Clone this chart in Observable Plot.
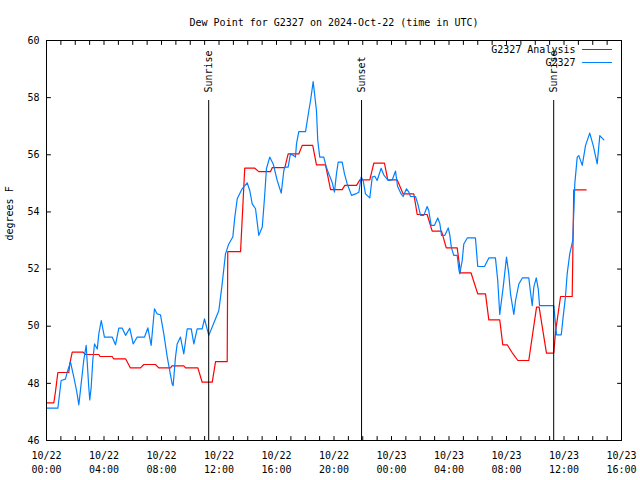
<!DOCTYPE html>
<html><head><meta charset="utf-8">
<script src="https://cdn.jsdelivr.net/npm/d3@7"></script>
<script src="https://cdn.jsdelivr.net/npm/@observablehq/plot@0.6"></script>
<style>body{margin:0;background:#fff} svg{display:block}</style>
</head><body><div id="chart"></div>
<script>
const title = "Dew Point for G2327 on 2024-Oct-22 (time in UTC)";
const yLabel = "degrees F";
const startUTC = Date.UTC(2024, 9, 22, 0, 0);
const spanHours = 40;
const yTicks = [46, 48, 50, 52, 54, 56, 58, 60];
const majorTickHours = [0, 4, 8, 12, 16, 20, 24, 28, 32, 36, 40];
const seriesNames = ["G2327 Analysis", "G2327"];
const seriesColors = ["#ff0000", "#0080ff"];
const eventLabels = ["Sunrise", "Sunset", "Sunrise"];
const eventTimes = ["2024-10-22T11:17Z", "2024-10-22T21:55Z", "2024-10-23T11:17Z"];

// hours after 10/22 00:00 UTC
const analysisHours = [0.0,0.51,0.63,0.79,1.55,1.62,1.79,2.55,2.71,3.64,3.72,4.57,4.66,5.50,5.84,6.54,6.77,7.58,7.81,8.63,8.73,9.55,9.67,10.53,10.83,11.53,11.76,12.57,12.61,13.50,13.79,14.49,14.77,15.58,15.70,16.58,16.81,17.55,17.79,18.52,18.78,19.41,19.76,20.57,20.75,21.57,21.79,22.49,22.77,23.51,23.74,24.40,24.81,25.55,25.79,26.48,26.83,27.48,27.81,28.57,28.80,29.53,30.00,30.54,30.77,31.53,31.74,32.05,32.40,32.79,33.55,34.09,34.27,34.78,35.29,35.41,35.76,36.57,36.68,37.54];
const analysisValues = [47.32,47.32,47.73,48.38,48.38,48.68,49.09,49.09,49.01,49.01,48.94,48.94,48.86,48.86,48.54,48.54,48.66,48.66,48.54,48.54,48.61,48.61,48.54,48.54,48.04,48.04,48.76,48.76,52.61,52.61,55.53,55.53,55.41,55.41,55.55,55.55,56.03,56.03,56.33,56.33,55.65,55.65,54.78,54.78,54.93,54.93,55.12,55.12,55.71,55.71,55.12,55.12,54.63,54.63,53.91,53.91,53.33,53.33,52.74,52.74,51.87,51.87,51.13,51.13,50.22,50.22,49.35,49.35,49.07,48.80,48.80,50.67,50.67,49.06,49.06,49.80,51.04,51.04,54.77,54.77];

const stationHours = [0.0,0.79,1.02,1.32,1.44,1.67,1.90,2.09,2.25,2.41,2.59,2.76,2.94,3.01,3.11,3.22,3.34,3.53,3.64,3.81,4.03,4.57,4.80,5.03,5.27,5.50,5.79,6.03,6.31,6.82,7.05,7.28,7.51,7.70,7.93,8.16,8.40,8.74,8.81,8.97,9.09,9.32,9.55,9.79,10.07,10.25,10.48,10.83,10.99,11.29,11.76,11.99,12.22,12.45,12.68,12.96,13.10,13.27,13.61,13.96,14.14,14.31,14.54,14.77,15.01,15.17,15.30,15.53,15.77,16.05,16.33,16.51,16.58,16.81,16.97,17.20,17.32,17.39,17.55,18.02,18.25,18.37,18.55,18.78,18.87,19.01,19.29,19.46,19.64,19.87,20.03,20.17,20.29,20.57,20.73,20.92,21.22,21.50,21.73,21.89,22.03,22.19,22.49,22.66,22.84,23.00,23.28,23.46,23.77,24.05,24.28,24.42,24.67,24.81,25.04,25.20,25.32,25.67,25.83,26.02,26.25,26.48,26.59,26.76,26.99,27.22,27.36,27.48,27.71,27.95,28.06,28.16,28.33,28.57,28.68,28.75,28.92,29.03,29.27,29.84,30.00,30.47,30.77,31.23,31.39,31.53,31.77,32.00,32.16,32.28,32.51,32.63,32.86,33.10,33.55,33.67,33.79,33.90,34.07,34.21,34.30,35.29,35.36,35.48,35.81,35.94,36.10,36.22,36.40,36.61,36.75,36.92,37.03,37.27,37.50,37.79,38.03,38.31,38.49,38.77];
const stationValues = [47.13,47.13,48.10,48.15,48.39,48.74,48.22,47.75,47.25,47.98,48.80,49.33,47.87,47.42,47.87,48.80,49.38,49.20,49.73,50.20,49.62,49.62,49.35,49.93,49.93,49.68,49.93,49.38,49.62,49.62,49.94,49.33,50.61,50.43,50.40,49.73,48.92,47.98,47.92,48.90,49.38,49.62,49.03,49.91,49.91,49.38,49.91,49.91,50.26,49.68,50.26,50.55,51.48,52.53,52.88,53.12,53.82,54.46,54.81,55.02,54.75,54.28,54.11,53.18,53.47,54.52,55.51,55.92,55.68,55.10,54.66,55.45,55.57,55.57,56.03,55.97,55.92,56.38,56.81,56.81,57.55,57.90,58.56,57.55,56.50,55.92,55.92,55.57,55.33,55.04,54.69,55.33,55.74,55.74,55.33,54.98,54.58,54.63,54.69,55.22,55.10,54.63,54.49,55.22,55.25,55.10,55.53,55.30,55.10,55.12,55.43,54.90,54.63,54.54,54.81,54.70,54.54,54.54,54.28,53.88,53.88,54.19,54.05,53.53,53.53,53.79,53.60,53.18,53.18,53.44,53.18,52.77,52.48,52.48,52.01,51.83,52.30,52.88,53.09,53.09,52.09,52.09,52.39,52.39,51.60,50.41,51.37,52.42,51.83,51.13,50.41,50.90,51.48,51.69,51.69,51.19,50.72,51.37,51.69,51.30,50.72,50.72,50.32,49.70,49.70,50.32,51.02,51.83,52.53,53.00,54.98,55.92,55.97,55.63,56.33,56.76,56.33,55.68,56.67,56.52];

const toDate = h => new Date(startUTC + h * 3600e3);
const analysis = analysisHours.map((h, i) => ({t: toDate(h), v: analysisValues[i]}));
const station = stationHours.map((h, i) => ({t: toDate(h), v: stationValues[i]}));
const events = eventTimes.map((t, i) => ({t: new Date(t), label: eventLabels[i]}));
const majorTicks = majorTickHours.map(toDate);
const hourTicks = d3.range(0, spanHours + 1).map(toDate);
const fmtDay = d3.utcFormat("%m/%d"), fmtTime = d3.utcFormat("%H:%M");
const seg = {draw(ctx, l) { ctx.moveTo(0, 0); ctx.lineTo(0, -l); }};
const tickOpts = {length: 4, anchor: "start", shape: seg, stroke: "#000", strokeWidth: 1};

const legendMarks = seriesNames.flatMap((name, i) => [
  Plot.text([name], {text: d => d, frameAnchor: "top-right", dx: -46, dy: 9 + 13 * i, textAnchor: "end", lineAnchor: "middle", fill: "#000"}),
  Plot.vector([name], {frameAnchor: "top-right", dx: -39, dy: 9 + 13 * i, rotate: 90, length: 29, anchor: "start", shape: seg, stroke: seriesColors[i], strokeWidth: 1.2})
]);

const chart = Plot.plot({
  width: 640, height: 480,
  marginLeft: 46, marginRight: 19, marginTop: 40, marginBottom: 40,
  style: {fontFamily: "'DejaVu Sans Mono', monospace", fontSize: "10px", background: "#fff", color: "#000"},
  x: {type: "utc", domain: [toDate(0), toDate(spanHours)]},
  y: {domain: [46, 60]},
  marks: [
    Plot.line(analysis, {x: "t", y: "v", stroke: seriesColors[0], strokeWidth: 1.2}),
    Plot.line(station, {x: "t", y: "v", stroke: seriesColors[1], strokeWidth: 1.2}),
    Plot.ruleX(events, {x: "t", insetTop: 60, stroke: "#000", strokeWidth: 1}),
    Plot.text(events, {x: "t", text: "label", frameAnchor: "top", dy: 52, rotate: -90, textAnchor: "start", lineAnchor: "middle", fill: "#000"}),
    Plot.frame({stroke: "#000", strokeWidth: 1}),
    Plot.vector(hourTicks, {x: d => d, frameAnchor: "bottom", rotate: 0, ...tickOpts}),
    Plot.vector(hourTicks, {x: d => d, frameAnchor: "top", rotate: 180, ...tickOpts}),
    Plot.vector(yTicks, {y: d => d, frameAnchor: "left", rotate: 90, ...tickOpts}),
    Plot.vector(yTicks, {y: d => d, frameAnchor: "right", rotate: -90, ...tickOpts}),
    Plot.axisX(majorTicks, {tickSize: 0, tickPadding: 9, lineHeight: 1.35, tickFormat: d => fmtDay(d) + "\n" + fmtTime(d), label: null, fill: "#000"}),
    Plot.axisY(yTicks, {tickSize: 0, tickPadding: 7, label: null, fill: "#000"}),
    Plot.text([yLabel], {text: d => d, frameAnchor: "left", dx: -37, rotate: -90, fill: "#000"}),
    Plot.text([title], {text: d => d, frameAnchor: "top", dy: -22, fill: "#000"}),
    ...legendMarks
  ]
});
document.getElementById("chart").append(chart);
</script>
</body></html>
